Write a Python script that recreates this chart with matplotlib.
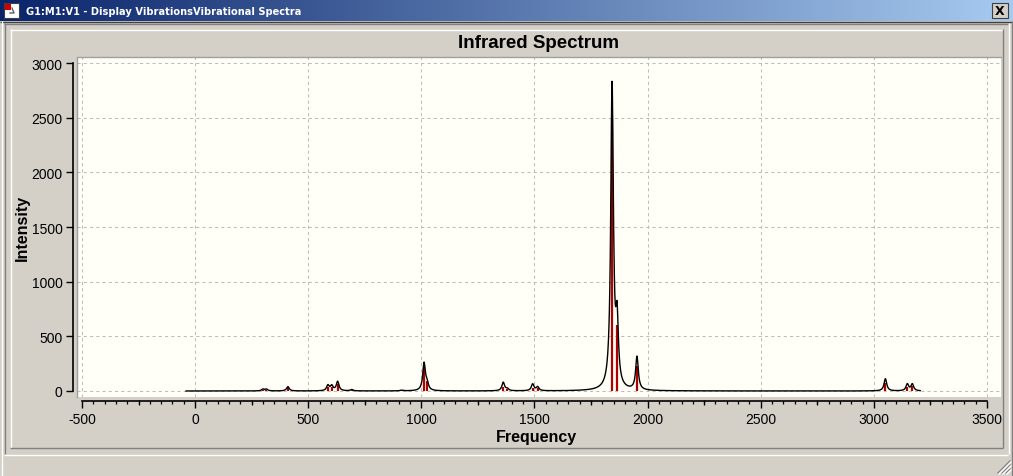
import numpy as np
import matplotlib
matplotlib.use("Agg")
import matplotlib.pyplot as plt
from matplotlib.colors import LinearSegmentedColormap

plt.rcParams["axes.unicode_minus"] = False

# ---------------- data ----------------
freqs = [300, 315, 410, 587, 604, 630, 692, 912, 1012, 1025, 1362, 1380,
         1492, 1514, 1843, 1865, 1953, 3051, 3148, 3170]
stick_int = [10, 12, 25, 40, 40, 60, 8, 5, 220, 90, 40, 15,
             30, 25, 2500, 600, 230, 70, 40, 45]
curve_amp = [16, 16, 40, 50, 45, 85, 12, 6, 250, 60, 78, 18,
             62, 35, 2780, 560, 305, 112, 62, 62]
half_width = 7.0
freq_start, freq_end = -40, 3206

x_ticks = [-500, 0, 500, 1000, 1500, 2000, 2500, 3000, 3500]
y_ticks = [0, 500, 1000, 1500, 2000, 2500, 3000]
title = "Infrared Spectrum"
xlabel = "Frequency"
ylabel = "Intensity"
window_title = "G1:M1:V1 - Display VibrationsVibrational Spectra"

# ---------------- figure ----------------
W, H = 1013, 477
fig = plt.figure(figsize=(W / 100, H / 100), dpi=100, facecolor="#D4D0C8")

bg = fig.add_axes([0, 0, 1, 1], zorder=-5)
bg.set_facecolor("#D4D0C8")
grad = np.linspace(0, 1, 256)[None, :]
cmap = LinearSegmentedColormap.from_list("tb", ["#0A246A", "#A6CAF0"])
bg.imshow(grad, extent=[0, W, 22, 0], aspect="auto", cmap=cmap)
bg.set_xlim(0, W)
bg.set_ylim(H, 0)
bg.axis("off")

def hline(y, x0, x1, c):
    bg.plot([x0, x1], [y, y], color=c, lw=1, solid_capstyle="butt")

def vline(x, y0, y1, c):
    bg.plot([x, x], [y0, y1], color=c, lw=1, solid_capstyle="butt")

# window frame lines
hline(22.5, 0, W, "#404040")
vline(1.5, 22, H, "#FFFFFF")
vline(1011.5, 22, H, "#808080")
# outer sunken rectangle
hline(24.5, 4, 1008, "#808080"); vline(4.5, 24, 455, "#808080")
hline(455.5, 4, 1008, "#FFFFFF"); vline(1008.5, 24, 455, "#FFFFFF")
# inner raised rectangle
hline(30.5, 10, 1003, "#FFFFFF"); vline(10.5, 30, 449, "#FFFFFF")
hline(448.5, 10, 1003, "#808080"); vline(1002.5, 30, 449, "#808080")

# resize grip
for k in range(3):
    off = 4 + 4 * k
    bg.plot([W - 3 - off, W - 3], [H - 3, H - 3 - off], color="#808080", lw=1)
    bg.plot([W - 2 - off, W - 2], [H - 2, H - 2 - off], color="#FFFFFF", lw=1)

# title bar icon
bg.add_patch(plt.Rectangle((4, 4), 15, 15, facecolor="#FFFFFF", edgecolor="#404040", lw=0.8))
bg.add_patch(plt.Rectangle((5, 5), 6, 6, facecolor="#D00000", edgecolor="none"))
bg.plot([10, 14, 12], [14, 14, 9], color="#606060", lw=1)

bg.text(26, 12, window_title, color="white", fontsize=7.1, fontweight="bold",
        family="DejaVu Sans", va="center", ha="left")

# close button
bg.add_patch(plt.Rectangle((992, 4), 16, 15, facecolor="#D4D0C8", edgecolor="#404040", lw=0.8))
bg.text(1000, 11.8, "X", color="black", fontsize=9, fontweight="bold",
        family="DejaVu Sans", ha="center", va="center")

# chart title & labels
bg.text(539, 43, title, fontsize=13.5, fontweight="bold", family="Liberation Sans",
        ha="center", va="center")
bg.text(536, 438, xlabel, fontsize=11.5, fontweight="bold", family="Liberation Sans",
        ha="center", va="center")
bg.text(22, 228, ylabel, fontsize=11.5, fontweight="bold", family="Liberation Sans",
        ha="center", va="center", rotation=90)

# ---------------- main plot ----------------
pl, pr, pt, pb = 77, 1001, 58, 398
ax = fig.add_axes([pl / W, 1 - pb / H, (pr - pl) / W, (pb - pt) / H])
ax.set_facecolor("#FFFFF8")
ax.set_xlim(-522, 3562)
ax.set_ylim(-55, 3055)

ax.set_xticks(x_ticks)
ax.set_yticks(y_ticks)
ax.set_xticks(np.arange(-500, 3501, 50), minor=True)
ax.grid(True, which="major", color="#BDBDBD", lw=0.75, ls=(0, (3, 3)))
ax.set_axisbelow(True)

for s in ["top", "right"]:
    ax.spines[s].set_visible(False)
ax.spines["left"].set_position(("outward", 3))
ax.spines["left"].set_bounds(0, 3000)
ax.spines["bottom"].set_position(("outward", 3))
ax.spines["bottom"].set_bounds(-500, 3500)
for s in ["left", "bottom"]:
    ax.spines[s].set_linewidth(1.2)

ax.tick_params(axis="both", which="major", direction="out", length=5, width=1,
               labelsize=10, pad=2.5)
ax.tick_params(axis="x", which="minor", direction="out", length=2.3, width=0.9)
for lab in ax.get_xticklabels() + ax.get_yticklabels():
    lab.set_family("Liberation Sans")

# medium ticks at the 250 marks
sec = ax.secondary_xaxis(-3 / (pb - pt) - 0.0001)
sec.spines["bottom"].set_visible(False)
sec.set_xticks([v + 250 for v in x_ticks[:-1]])
sec.tick_params(direction="out", length=3.8, width=0.9, labelbottom=False)

# sunken border of the plot area
ax.plot([0, 0, 1], [0, 1, 1], transform=ax.transAxes, color="#A0A0A0", lw=1, clip_on=False)

# spectrum
ax.vlines(freqs, 0, stick_int, color="#B00000", lw=1.6, zorder=3)
xs = np.arange(freq_start, freq_end, 1.0)
f = np.array(freqs)[:, None]
a = np.array(curve_amp)[:, None]
ys = (a * half_width ** 2 / ((xs[None, :] - f) ** 2 + half_width ** 2)).sum(axis=0)
ax.plot(xs, ys, color="black", lw=1.0, zorder=4)

fig.savefig("out.png", dpi=100, facecolor=fig.get_facecolor())
